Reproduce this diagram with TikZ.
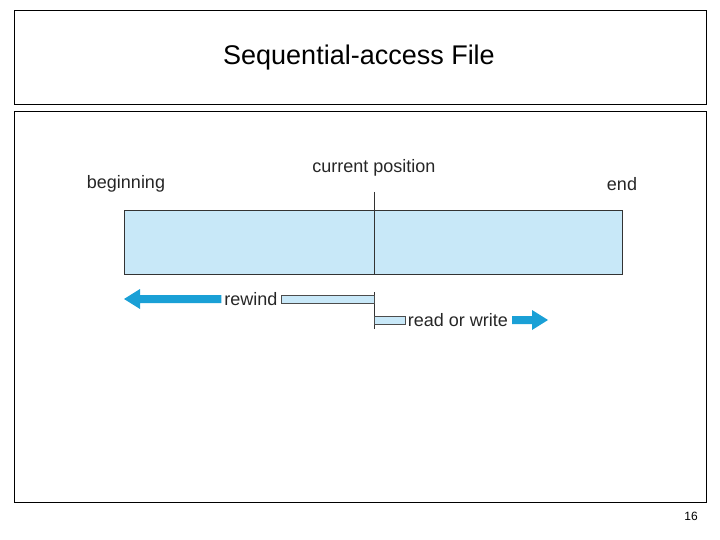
\documentclass[tikz,border=0pt]{standalone}
\usepackage{fontspec}
\setmainfont{Liberation Sans}
\usetikzlibrary{positioning}
\definecolor{barblue}{RGB}{200,232,248}
\definecolor{arrowblue}{RGB}{26,160,214}
\begin{document}
\begin{tikzpicture}[x=1pt, y=-1pt,
   frame_style/.style={draw=black, line width=0.6pt},
   label_style/.style={font=\fontsize{18}{20}\selectfont, inner sep=1pt, text=black!85},
   rail_style/.style={draw=black!70, line width=0.4pt, fill=barblue}]
	\useasboundingbox (0,0) rectangle (720,540);
	\draw [frame_style] (14,10) rectangle (706,104);
	\draw [frame_style] (14,111) rectangle (706,502);
	\node (title) at (359,58) {\fontsize{27}{30}\selectfont Sequential-access File};
	\node (page) at (691,516) {\fontsize{12}{14}\selectfont 16};

	% file bar
	\draw [draw=black!80, line width=0.8pt, fill=barblue] (124,210) rectangle (622,274);
	\coordinate (cur) at (374,274);
	\coordinate (curtop) at (374,192);
	\draw [black!80, line width=0.8pt] (curtop) -- (cur);
	\node [label_style] (beg) at (126,184) {beginning};
	\node [label_style] (pos) at (374,168) {current position};
	\node [label_style] (end) at (622,184) {end};

	% rewind
	\node [label_style] (rew) at (251,299) {rewind};
	\draw [black!80, line width=0.6pt] (374,292) -- (374,329);
	\fill [rail_style] ([xshift=2pt]rew.east |- 0,295) rectangle (374,303);
	\fill [arrowblue] (124,299) -- (140,289) -- (140,295) -- ([xshift=-2pt]rew.west |- 0,295) -- ([xshift=-2pt]rew.west |- 0,303) -- (140,303) -- (140,309) -- cycle;

	% read or write
	\node [label_style] (rw) at (458,320) {read or write};
	\fill [rail_style] (374,316) rectangle ([xshift=-2pt]rw.west |- 0,324);
	\fill [arrowblue] ([xshift=3pt]rw.east |- 0,316) -- (532,316) -- (532,310) -- (548,320) -- (532,330) -- (532,324) -- ([xshift=3pt]rw.east |- 0,324) -- cycle;
\end{tikzpicture}
\end{document}
